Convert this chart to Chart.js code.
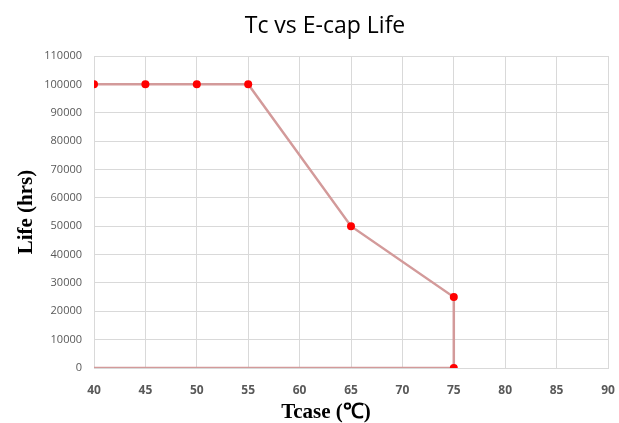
<!DOCTYPE html>
<html><head><meta charset="utf-8">
<script src="https://cdn.jsdelivr.net/npm/chart.js@4"></script>
<style>html,body{margin:0;padding:0;background:#fff}#wrap{width:619px;height:423px}</style>
</head><body><div id="wrap"><canvas id="c" width="619" height="423"></canvas></div>
<script>
const tcase = [40, 45, 50, 55, 65, 75, 75, 40];
const life = [100000, 100000, 100000, 100000, 50000, 25000, 0, 0];
const markerShown = [1, 1, 1, 1, 1, 1, 1, 0];
const xTicks = [40, 45, 50, 55, 60, 65, 70, 75, 80, 85, 90];
const yTicks = [0, 10000, 20000, 30000, 40000, 50000, 60000, 70000, 80000, 90000, 100000, 110000];
const chartTitle = 'Tc vs E-cap Life';
const xTitle = 'Tcase (℃)';
const yTitle = 'Life (hrs)';

const pts = tcase.map((x, i) => ({x: x, y: life[i]}));

const titlesPlugin = {
  id: 'titles',
  afterDraw(chart) {
    const ctx = chart.ctx;
    ctx.save();
    ctx.fillStyle = '#000';
    ctx.textAlign = 'center';
    ctx.textBaseline = 'alphabetic';
    ctx.font = 'normal 23px "Open Sans"';
    ctx.fillText(chartTitle, 325, 33);
    ctx.font = 'bold 21px "Liberation Serif"';
    ctx.fillText(xTitle, 326, 418);
    ctx.restore();
  }
};

new Chart(document.getElementById('c'), {
  type: 'scatter',
  data: { datasets: [{
    data: pts,
    showLine: true,
    borderColor: '#D39A9A',
    borderWidth: 2.5,
    backgroundColor: '#FF0000',
    pointBackgroundColor: '#FF0000',
    pointBorderColor: '#FF0000',
    pointRadius: markerShown.map(m => m ? 4 : 0),
    pointBorderWidth: 0,
    tension: 0
  }]},
  plugins: [titlesPlugin],
  options: {
    responsive: false, animation: false, devicePixelRatio: 1,
    layout: { padding: { left: 0, right: 11, top: 56, bottom: 0 } },
    plugins: {
      legend: { display: false },
      tooltip: { enabled: false },
      title: { display: false }
    },
    scales: {
      x: { type: 'linear', min: 40, max: 90,
        afterBuildTicks: s => { s.ticks = xTicks.map(v => ({value: v})); },
        afterFit: s => { s.height = 55; s.paddingLeft = 0; s.paddingRight = 0; },
        grid: { color: '#D9D9D9', drawTicks: false },
        border: { color: '#D9D9D9' },
        ticks: { color: '#595959', padding: 15, callback: v => String(v),
          font: { family: 'Open Sans', size: 12, weight: 'bold' } },
        title: { display: false }
      },
      y: { type: 'linear', min: 0, max: 110000,
        afterBuildTicks: s => { s.ticks = yTicks.map(v => ({value: v})); },
        afterFit: s => { s.width = 94; s.paddingTop = 0; s.paddingBottom = 0; },
        grid: { color: '#D9D9D9', drawTicks: false },
        border: { color: '#D9D9D9' },
        ticks: { color: '#595959', padding: 12, callback: v => String(v),
          font: { family: 'Open Sans', size: 11 } },
        title: { display: true, text: yTitle, color: '#000', padding: { top: 14, bottom: 0 },
          font: { family: 'Liberation Serif', size: 21, weight: 'bold' } }
      }
    }
  }
});
</script></body></html>
